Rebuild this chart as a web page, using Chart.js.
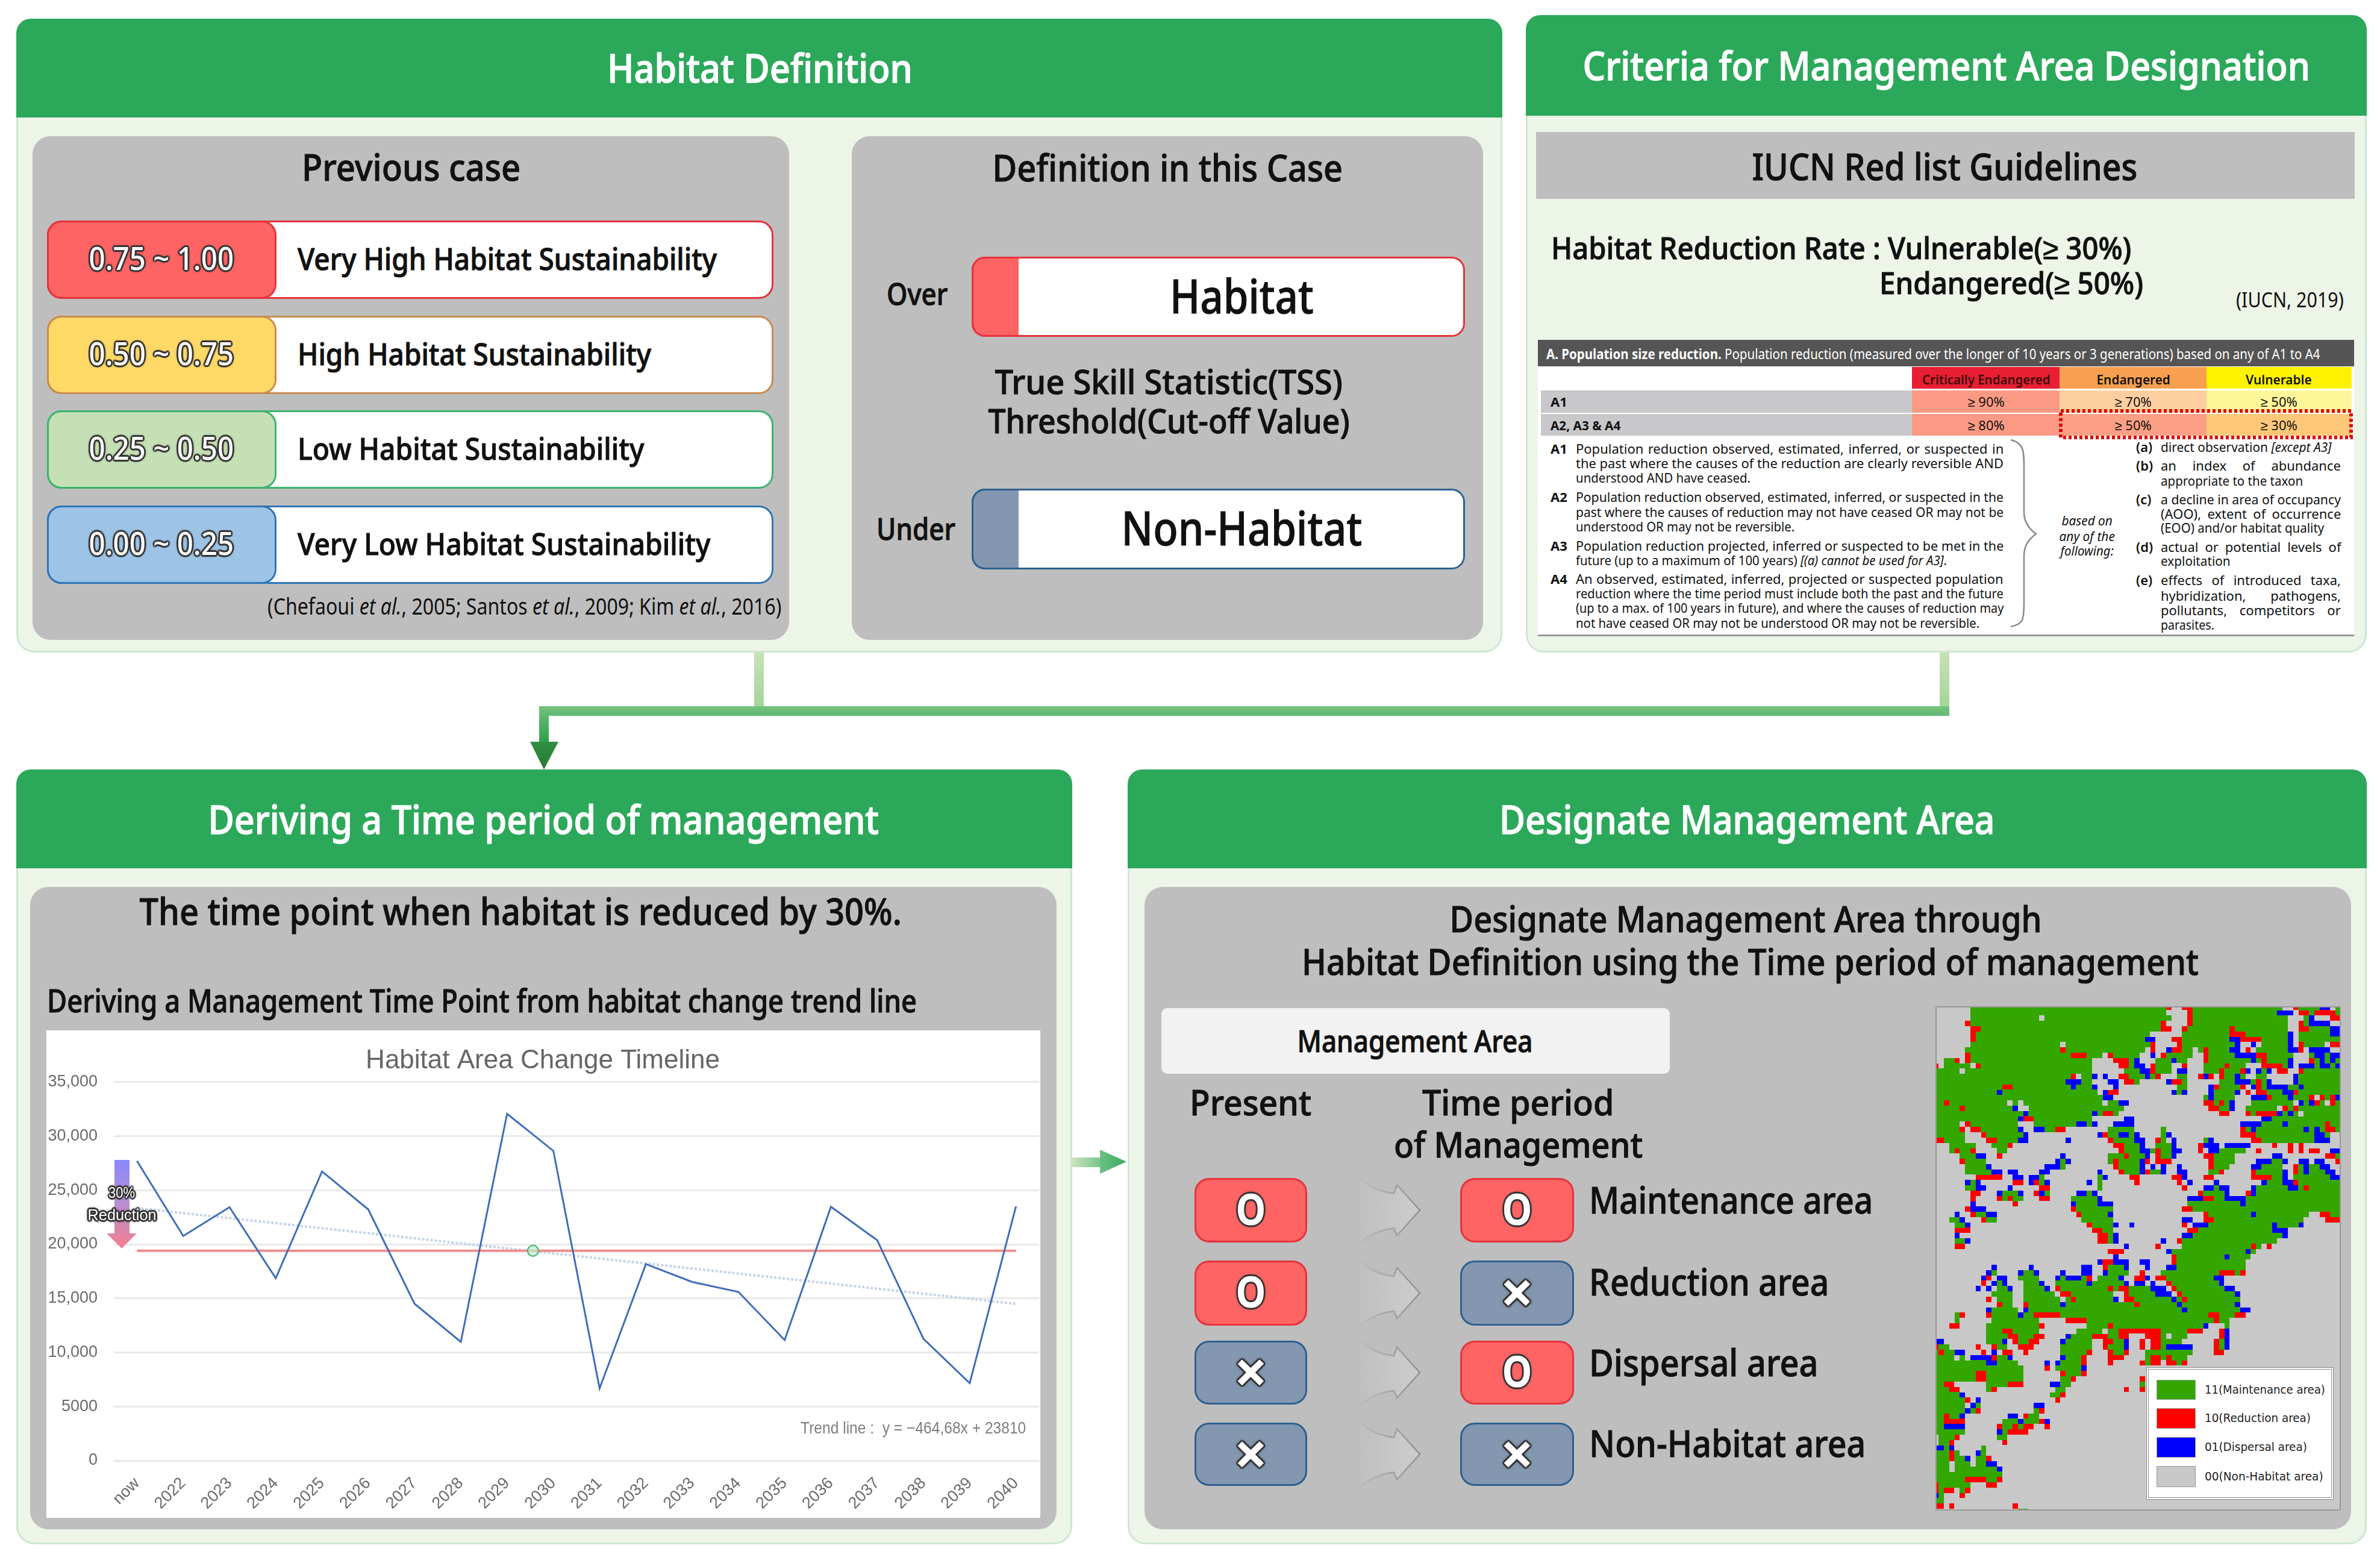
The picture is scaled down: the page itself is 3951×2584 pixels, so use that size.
<!DOCTYPE html>
<html>
<head>
<meta charset="utf-8">
<title>Habitat and management area workflow</title>
<script src="https://cdn.jsdelivr.net/npm/chart.js@4"></script>
<style>
  html, body { margin: 0; padding: 0; background: #fff; }
  #page { position: relative; width: 3951px; height: 2584px; overflow: hidden; font-family: "Noto Sans", sans-serif; }
  .b { position: absolute; box-sizing: border-box; }
  .t { position: absolute; white-space: nowrap; line-height: 1; color: #111; }
  canvas { position: absolute; display: block; }
  svg { position: absolute; left: 0; top: 0; overflow: visible; }
</style>
</head>
<body>
<div id="page"></div>
<script>
// ---- Trend chart data ----
const categories = ['now', '2022', '2023', '2024', '2025', '2026', '2027', '2028', '2029', '2030',
                    '2031', '2032', '2033', '2034', '2035', '2036', '2037', '2038', '2039', '2040'];
const habitatArea = [27700, 20770, 23430, 16860, 26740, 23220, 14500, 10980, 32060, 28640,
                     6670, 18170, 16520, 15600, 11140, 23470, 20380, 11260, 7160, 23500];
const trendLine = [23350, null, null, null, null, null, null, null, null, null,
                   null, null, null, null, null, null, null, null, null, 14500];
const thresholdLine = [19400, null, null, null, null, null, null, null, null, null,
                       null, null, null, null, null, null, null, null, null, 19400];
const crossingPoint = [{ x: 8.56, y: 19400 }];
const yTickLabels = ['0', '5000', '10,000', '15,000', '20,000', '25,000', '30,000', '35,000'];

// ---- Map grid data: each row is "<class><first column>" runs, G/R/B/. ----
const mapClasses = ['.', 'G', 'R', 'B'];
const mapColors = ['#c8c8c8', '#33a600', '#ff0000', '#0000ff'];
const mapRows = [
  '.0 G7 R44 .45 R47 G49 .66 R68 G69 B73 .75 G76',
  '.0 G7 .44 R48 G49 B65 .68 R69 G71 R72 G76',
  '.0 G7 .20 G21 .45 R48 G49 .67 G70 B71 .72 R75',
  '.0 R6 G7 R43 .44 R48 G49 .67 R69 G70 B71 .75',
  '.0 R7 G9 R43 .45 R47 G48 R56 G57 .67 R69 G71 B75',
  '.0 R7 G8 .41 G47 R56 G59 B67 .68 G69 B75',
  '.0 R7 G8 B40 .42 R45 G47 B56 R58 G62 B67 .68 G69',
  '.0 G7 .24 G25 R41 .42 R46 G47 B57 .58 B60 .61 G62 B67 .68 R69 G70 .74 R75',
  '.0 G6 R24 G25 .40 R41 .42 B44 R45 G47 .49 G50 R51 G52 B56 .58 R59 .60 G61 B67 R69 .70 B71 .75',
  '.0 R6 G7 R26 G29 .32 R33 G34 .39 B41 .42 R43 G44 .49 R51 G52 B57 R61 G63 .68 G71 B72 G74 B75',
  '.0 G2 R4 .5 R6 G7 .30 R34 G37 B38 .39 G42 B45 G46 .48 R51 G52 B60 G61 R62 G63 B67 .68 R71 G72 B73 G74 B75 G76',
  'R0 .1 G2 .7 R8 G9 .30 R35 G37 B38 .40 R41 G42 .45 R47 .48 G51 R55 G56 .59 R62 G66 B67 .68 B69 G72 B73 G75 B76',
  'G0 .5 G6 .30 G36 B39 R41 G42 .45 B46 .48 G51 R54 G55 R58 B59 .60 B61 G62 B63 .64 R65 .67 R69 G70',
  'G0 R26 .27 G28 B30 .31 B32 .33 R35 G37 B40 G41 R42 .43 G46 .48 R50 B51 R52 .53 R54 G55 B57 G58 .59 G61 .63 B68 G69',
  'G0 B25 G28 .30 B33 .35 R36 G38 .39 B44 R45 G47 .48 G54 B57 G60 R61 G62 B63 .64 B68 G69',
  'G0 R13 G15 B26 G27 B30 .31 B34 .35 G46 .48 B52 R53 G54 R58 .59 B60 R61 G62 B63 G67 B69 G70',
  'G0 B12 G13 .31 B32 R33 .35 B45 G46 B47 .48 B52 G53 B57 .58 R59 .60 R61 G63 B66 R68 G69',
  'G0 B32 .34 G51 B52 G53 .57 B60 R63 G64 B67 G68 R71 .72 R73 G74 R75 B76',
  'G0 R2 G3 .14 G15 .16 G17 .32 G33 B35 .37 R51 G53 R54 G55 B56 .57 G60 .68 B69 G70 B71 R72 G73 .74 R75 G76',
  'G0 R5 G6 B15 .16 G18 .36 R52 G54 B56 .57 G59 .65 R66 G67 R68 G69',
  'G0 B17 G18 B30 G31 R32 G34 .35 R54 .56 R59 G60 R61 B65 G66 B67 G68 .69 G70',
  'G0 B16 R17 G19 .30 B36 .38 B62 G64',
  'G0 .5 R6 G7 .16 G19 B27 G29 B30 .31 B34 .38 B58 G62 B66 G67 R74 G75',
  'G0 R5 .6 R7 G9 B16 .17 B19 G21 R23 .25 G33 .38 G43 .44 R58 G59 B60 G61 B70 G71 B72 G73 R74 G76',
  'G0 .6 R9 G10 B17 .18 B31 R32 G33 B35 G37 B38 .39 G43 B44 .45 R58 G61 B72 G74 .75',
  'R0 G2 .6 R10 G12 B16 .18 B25 .26 R33 G34 B38 .40 R42 G43 .44 B45 .46 G51 B52 .53 R60 G62 B72 .75',
  '.0 G3 .8 G11 R14 .15 R34 G36 B39 .40 G42 B45 .46 R50 B51 .54 B55 .60 R64 .65 R67 .68 R69 .70',
  '.0 G3 R4 G5 R7 .8 G12 .14 R35 G36 B39 G41 R42 G43 B45 .47 R50 .51 B52 G54 .59 R61 .62 R67 .68 R69 .70 R71 .73 B75',
  '.0 G5 B8 .10 R12 .13 B24 .25 G33 R36 G37 B40 .41 R42 G43 B45 .46 R51 G53 .57 B64 .66 R74 G76',
  '.0 R5 G6 .10 B23 G24 B25 .26 G33 R34 G35 B39 R40 .41 R42 .45 R52 G53 .57 B61 G64 B66 .67 B69 .71 B72 .74 R76',
  '.0 G6 B10 .11 B21 G24 .25 R34 G35 B39 .40 B41 .42 B43 .44 B46 .47 R52 G53 .56 B60 G62 .66 R68 G69 B70 G71 B73 .75',
  '.0 G6 B11 .13 B14 .16 B20 .22 B31 .32 R35 G36 B39 R40 G41 B43 .44 B46 .48 G52 R54 .55 R60 G61 B66 .67 R68 G69 B70 G71 B74 .76',
  '.0 R8 .13 B15 .17 B18 G20 .21 G31 B32 .33 R37 .39 R45 B47 .48 R51 .53 R60 G64 B66 .67 G68 B75',
  '.0 B6 G7 B8 .9 R15 .17 B18 R19 G20 B21 .22 B29 .30 G31 .32 R38 .39 R46 .47 B48 .49 B53 .54 B62 G63 B66 R68 G69',
  '.0 G6 B8 .10 B14 .15 R20 .22 G31 .32 R47 .48 B51 G53 B54 .56 B60 G61 B67 G69 R70 G71',
  '.0 R7 .9 B12 G13 B16 .17 R19 B20 G21 .22 B27 G29 B30 .31 R50 G51 B55 .56 R59 B60 G61',
  '.0 R7 .8 R12 G13 R14 G15 .17 R20 .22 G26 B31 .32 B48 R51 G53 B55 G59',
  '.0 B7 .8 R15 .16 B26 G27 B31 .34 G48 B58 G59',
  '.0 R6 B7 .10 R26 G27 .34 R47 G49',
  '.0 B4 .5 R7 G8 B10 .12 R27 G28 B33 .34 R51 G52 B60 G61 .71 R73 G75',
  '.0 G3 B5 .6 R9 G10 .12 G28 .34 B47 .49 R51 G53 .70 R74',
  '.0 G4 B6 .7 R29 G30 B34 .35 B37 .38 R47 .48 B49 G52 B64 G65 B69 .70',
  '.0 R4 .7 R30 G32 .34 R48 G50 B64 .67',
  '.0 B4 .5 R31 G33 B34 .35 B47 G49 B66 .67',
  '.0 G4 B6 .7 R31 G33 B34 .35 B43 .44 R46 G47 .65',
  '.0 R4 .6 B36 .37 R42 .43 G47 R60 G61 .62 R63 .64',
  '.0 R33 .36 B44 G45 B59 G60 .61',
  '.0 B34 .35 R45 G46 B55 G56 .60',
  '.0 B31 R32 B34 .37 B39 .41 R45 G46 .59',
  '.0 B11 .12 B18 .19 B28 .30 R32 G33 B36 .37 B40 .41 B44 G46 .59',
  '.0 B10 G11 .12 B16 G17 B19 .20 B24 .25 B28 .30 B32 G33 .37 R39 .40 G43 R54 G57 R58 .59',
  '.0 B9 R10 .11 B12 .14 G16 .20 B23 G24 B25 G28 R29 .30 G31 B35 .36 R38 B40 .41 R42 G44 B53 .55',
  '.0 R9 .10 B11 G12 B13 .14 G17 B20 .21 G23 B29 G30 B36 .37 B38 .40 B41 .42 R44 G45 B54 .55',
  '.0 B8 .9 B10 .11 G12 B14 .15 G17 B21 .22 R23 G24 R33 G34 R35 G37 B41 .44 R45 G46 B55 .57',
  '.0 G11 .15 G17 .23 R24 G26 .34 R36 G37 B42 .45 R46 G47 B57 .58',
  '.0 R10 .11 G12 .15 G17 .24 G25 R26 G27 B34 .35 R36 G38 B45 G46 R47 G48 .58',
  '.0 R12 G13 .15 R17 G18 B24 G25 R38 G39 B46 G47 B57 .58',
  '.0 B10 G11 .16 B17 G18 B47 G48 B58 .60',
  '.0 G4 R5 .6 R10 G11 B16 G17 R19 G24 R52 G54 R57 .59',
  '.0 G4 .5 G11 .20 R25 G29 R53 G54 .56',
  '.0 R3 .5 G10 R20 .21 G29 R33 G34 B51 .52 G55 .56',
  '.0 G10 R13 G15 .20 G27 .32 G33 R35 G43 R48 .51 R54 B55 .56',
  '.0 G10 R14 G16 R19 .21 B25 G26 R30 G33 R35 .37 R40 G43 .44 G45 .48 R54 B55 .56',
  'B0 .2 G10 B13 .14 R15 G16 R18 .20 B24 G25 .30 R32 G34 B36 .37 R39 .40 R41 G43 .47 R53 G54 B55 .56',
  'R0 G1 .3 R8 .9 R11 G12 .14 R16 .19 G24 .30 R32 G33 B36 .37 R39 .40 R41 G43 B44 .49 R53 G54 B55 .56',
  'G0 R1 G2 B4 .6 R9 .10 B11 .12 R13 .15 R17 .18 G24 R29 .30 R33 G34 R36 .37 G40 .49 R53 .55',
  'G0 .4 G5 .6 B7 R11 G12 B14 .15 B24 G25 R28 .29 R33 .36 G40 R41 G43 R44 G45 .48',
  'G0 B10 G12 .16 B21 .22 B23 G24 R28 .29 R33 .34 R39 G40 R41 .43 R44 G46 R47 .48',
  'G0 .17 R21 .22 G23 B28 .29',
  'G0 R8 G10 .17 R24 G25 R28 .29',
  'G0 R8 G10 .17 G24 R26 .27 R39 .40',
  'G0 R2 .4 G10 R14 .17 B22 G24 .26 G39 .40',
  'G0 R3 .5 G10 R11 .12 G23 .25 R36 .37 R39 .40',
  'G0 B5 .6 G22 R24 .25',
  'G0 R6 .7 B8 .9 R23 .24',
  'G0 .6 B7 G8 .9 B19 .21',
  'G0 B6 G7 R8 .9 G19 R20 .21',
  'G0 R2 G3 B5 .6 B14 .16 R17 G18 .20',
  'G0 R2 .6 G13 B16 G17 R20 B21 .22',
  'G0 B2 .6 R12 G13 R15 G16 R17 .19 R21 .22',
  'G0 .6 B12 G13 R14 .18',
  '.0 G1 R4 .5 G12 .14',
  '.0 G1 R3 .4 R13 .14',
  'B0 G2 B3 .4 G9 .10',
  'G0 R3 G4 .5 B8 G9 .10',
  'G0 R3 G4 B6 .7 G8 R10 .11',
  'G0 .3 G4 .7 G8 B10 .12',
  'G0 .3 G4 B12 .13',
  'G0 .13',
  'G0 R6 G10 R12 .13',
  'R0 G1 .7 R10 .12',
  'R0 G1 R2 .4 G5 R6 .7',
  'B0 G1 .2 R5 .6',
  'G0 .2',
  'R0 .2 R3 .4 R15 .16',
  '.0 G16 .18'
];

// ---- Text of the diagram ----
const sustainabilityRows = [
  ['0.75 ~ 1.00', 'Very High Habitat Sustainability', 696, '#ff6464', '#e8323c', 366],
  ['0.50 ~ 0.75', 'High Habitat Sustainability', 587, '#ffd966', '#c98a50', 524],
  ['0.25 ~ 0.50', 'Low Habitat Sustainability', 575, '#c5e0b4', '#3cb371', 681],
  ['0.00 ~ 0.25', 'Very Low Habitat Sustainability', 685, '#9dc3e6', '#2e75b6', 839]
];
const criteriaLeft = [
  ['A1', 'Population reduction observed, estimated, inferred, or suspected in', 710, 745],
  ['', 'the past where the causes of the reduction are clearly reversible AND', 710, 769],
  ['', 'understood AND have ceased.', 290, 793],
  ['A2', 'Population reduction observed, estimated, inferred, or suspected in the', 710, 825],
  ['', 'past where the causes of reduction may not have ceased OR may not be', 710, 850],
  ['', 'understood OR may not be reversible.', 363, 874],
  ['A3', 'Population reduction projected, inferred or suspected to be met in the', 710, 906],
  ['', 'future (up to a maximum of 100 years) <i>[(a) cannot be used for A3]</i>.', 616, 930],
  ['A4', 'An observed, estimated, inferred, projected or suspected population', 710, 961],
  ['', 'reduction where the time period must include both the past and the future', 710, 985],
  ['', '(up to a max. of 100 years in future), and where the causes of reduction may', 710, 1009],
  ['', 'not have ceased OR may not be understood OR may not be reversible.', 670, 1034]
];
const criteriaRight = [
  ['(a)', 'direct observation <i>[except A3]</i>', 283, 742],
  ['(b)', 'an index of abundance', 299, 773],
  ['', 'appropriate to the taxon', 236, 798],
  ['(c)', 'a decline in area of occupancy', 299, 829],
  ['', '(AOO), extent of occurrence', 299, 853],
  ['', '(EOO) and/or habitat quality', 271, 876],
  ['(d)', 'actual or potential levels of', 299, 908],
  ['', 'exploitation', 116, 931],
  ['(e)', 'effects of introduced taxa,', 299, 963],
  ['', 'hybridization, pathogens,', 299, 989],
  ['', 'pollutants, competitors or', 299, 1013],
  ['', 'parasites.', 89, 1037]
];
const managementRows = [
  ['O', 'O', 'Maintenance area', 471, 1955, 2062, 1993],
  ['O', '×', 'Reduction area', 398, 2092, 2200, 2129],
  ['×', 'O', 'Dispersal area', 380, 2225, 2331, 2263],
  ['×', '×', 'Non-Habitat area', 459, 2361, 2466, 2397]
];
const mapLegend = [
  ['11(Maintenance area)', '#33a600', 2290, 2323, 200],
  ['10(Reduction area)', '#ff0000', 2337, 2371, 176],
  ['01(Dispersal area)', '#0000ff', 2385, 2419, 170],
  ['00(Non-Habitat area)', '#c8c8c8', 2433, 2468, 197]
];

const page = document.getElementById('page');

// box by its corners, css is a plain style string
function box(x0, y0, x1, y1, css) {
  const el = document.createElement('div');
  el.className = 'b';
  el.style.cssText = `left:${x0}px;top:${y0}px;width:${x1 - x0}px;height:${y1 - y0}px;${css || ''}`;
  page.appendChild(el);
  return el;
}

// text at anchor x (a = l, c or r) and centre y, fitted to width w when given
function txt(str, x, y, size, o) {
  o = o || {};
  const a = o.a || 'c';
  const el = document.createElement('div');
  el.className = 't';
  el.innerHTML = str;
  el.style.fontSize = size + 'px';
  el.style.fontWeight = o.weight || 500;
  if (o.color) el.style.color = o.color;
  if (o.font) el.style.fontFamily = o.font;
  if (o.italic) el.style.fontStyle = 'italic';
  if (o.shadow) el.style.textShadow = o.shadow;
  if (size >= 46 && !o.shadow) el.style.webkitTextStroke = (o.stroke || 1) + 'px';
  page.appendChild(el);
  let w0 = el.offsetWidth;
  // justified lines of the table open up the word gaps instead of the glyphs
  if (o.just && o.w > w0) {
    const gaps = el.textContent.split(' ').length - 1;
    if (gaps) el.style.wordSpacing = (o.w - w0) / gaps + 'px';
    w0 = el.offsetWidth;
  }
  const scale = o.w ? o.w / w0 : 1;
  el.style.left = (a === 'l' ? x : a === 'c' ? x - w0 / 2 : x - w0) + 'px';
  el.style.top = (y - size * 0.05) + 'px';
  el.style.transformOrigin = (a === 'l' ? 'left' : a === 'c' ? 'center' : 'right') + ' center';
  el.style.transform = `translateY(-50%) scaleX(${scale})`;
  return el;
}

function panel(x0, y0, x1, y1, headerY, title, titleX, titleY, titleW) {
  box(x0, y0, x1, y1, 'background:#edf4e8;border:3px solid #cfe7d2;border-radius:30px;');
  box(x0, y0, x1, headerY, 'background:#2ba85a;border-radius:24px 24px 0 0;');
  txt(title, titleX, titleY, 66, { w: titleW, color: '#fff', stroke: 1.4 });
}

const greyBox = 'background:#bebebe;border-radius:30px;';
const outline = '3px 0 1px #333,-3px 0 1px #333,0 3px 1px #333,0 -3px 1px #333,2px 2px 1px #333,-2px 2px 1px #333,2px -2px 1px #333,-2px -2px 1px #333,0 0 6px #333';

// ---- Connectors ----
box(1252, 1080, 1268, 1172, 'background:linear-gradient(#c9e2b6,#a5d49a);');
box(3220, 1080, 3236, 1172, 'background:linear-gradient(#c9e2b6,#a5d49a);');
box(895, 1172, 3236, 1188, 'background:linear-gradient(#77c27f,#5fb873);');
box(895, 1172, 911, 1232, 'background:linear-gradient(#74c17d,#2aa04c);');
box(1780, 1921, 1832, 1937, 'background:linear-gradient(90deg,#c8e4c0,#6fc383);');

// ---- Habitat Definition ----
panel(27, 31, 2494, 1083, 195, 'Habitat Definition', 1261, 114, 507);
box(54, 226, 1310, 1062, greyBox);
txt('Previous case', 682, 279, 62, { w: 363 });
sustainabilityRows.forEach(r => {
  const y = r[5];
  box(78, y, 1284, y + 130, `background:#fff;border:3px solid ${r[4]};border-radius:24px;`);
  box(78, y, 459, y + 130, `background:${r[3]};border:3px solid ${r[4]};border-radius:24px;`);
  txt(r[0], 268, y + 65, 52, { w: 241, color: '#fff', shadow: outline });
  txt(r[1], 494, y + 65, 50, { a: 'l', w: r[2] });
});
txt('(Chefaoui <i>et al.</i>, 2005; Santos <i>et al.</i>, 2009; Kim <i>et al.</i>, 2016)', 444, 1007, 38, { a: 'l', w: 853, weight: 400 });

box(1414, 226, 2462, 1062, greyBox);
txt('Definition in this Case', 1938, 280, 62, { w: 582 });
txt('Over', 1522, 489, 50, { w: 101 });
box(1613, 426, 2432, 559, 'background:#fff;border:3px solid #e8323c;border-radius:22px;');
box(1613, 426, 1691, 559, 'background:#ff6464;border:3px solid #e8323c;border-right:none;border-radius:22px 0 0 22px;');
txt('Habitat', 2061, 494, 78, { w: 239 });
txt('True Skill Statistic(TSS)', 1940, 635, 56, { w: 577 });
txt('Threshold(Cut-off Value)', 1940, 700, 56, { w: 600 });
txt('Under', 1520, 879, 50, { w: 131 });
box(1613, 811, 2432, 945, 'background:#fff;border:3px solid #2e6090;border-radius:22px;');
box(1613, 811, 1691, 945, 'background:#8497b0;border:3px solid #2e6090;border-right:none;border-radius:22px 0 0 22px;');
txt('Non-Habitat', 2061, 879, 78, { w: 400 });

// ---- Criteria ----
panel(2533, 25, 3929, 1083, 192, 'Criteria for Management Area Designation', 3231, 110, 1207);
box(2550, 219, 3909, 330, 'background:#bebebe;');
txt('IUCN Red list Guidelines', 3228, 278, 62, { w: 640 });
txt('Habitat Reduction Rate : Vulnerable(≥ 30%)', 2575, 413, 50, { a: 'l', w: 963 });
txt('Endangered(≥ 50%)', 3120, 471, 50, { a: 'l', w: 438 });
txt('(IUCN, 2019)', 3891, 499, 34, { a: 'r', w: 179, weight: 400 });

box(2553, 564, 3908, 1056, 'background:#fff;border-bottom:3px solid #999;');
box(2553, 564, 3908, 608, 'background:#555;');
txt('<b>A. Population size reduction.</b> Population reduction (measured over the longer of 10 years or 3 generations) based on any of A1 to A4', 2567, 588, 24, { a: 'l', w: 1285, color: '#fff', weight: 400 });
box(3174, 609, 3419, 645, 'background:#e81e32;');
box(3419, 609, 3663, 645, 'background:#f8a050;');
box(3663, 609, 3904, 645, 'background:#fff200;');
box(2558, 648, 3174, 685, 'background:#c8c8ca;');
box(3174, 648, 3419, 685, 'background:#fa9a84;');
box(3419, 648, 3663, 685, 'background:#fdcfa0;');
box(3663, 648, 3904, 685, 'background:#fff69a;');
box(2558, 687, 3174, 723, 'background:#c8c8ca;');
box(3174, 687, 3419, 723, 'background:#fa9a84;');
box(3419, 687, 3663, 723, 'background:#fca085;');
box(3663, 687, 3904, 723, 'background:#ffc878;');
txt('Critically Endangered', 3297, 630, 22, { w: 213, weight: 600, color: '#3a0a0a' });
txt('Endangered', 3541, 630, 22, { w: 122, weight: 600 });
txt('Vulnerable', 3783, 630, 22, { w: 110, weight: 600 });
txt('A1', 2574, 667, 22, { a: 'l', weight: 700 });
txt('A2, A3 &amp; A4', 2574, 706, 22, { a: 'l', w: 116, weight: 700 });
[['≥ 90%', 3297, 667], ['≥ 70%', 3541, 667], ['≥ 50%', 3783, 667],
 ['≥ 80%', 3297, 706], ['≥ 50%', 3541, 706], ['≥ 30%', 3783, 706]].forEach(c => {
  txt(c[0], c[1], c[2], 22, { w: 61, weight: 400 });
});
criteriaLeft.forEach(l => {
  if (l[0]) txt(l[0], 2574, l[3], 22, { a: 'l', weight: 700 });
  txt(l[1], 2616, l[3], 22, { a: 'l', w: l[2], weight: 400, just: true });
});
criteriaRight.forEach(l => {
  if (l[0]) txt(l[0], 3546, l[3], 22, { a: 'l', weight: 600 });
  txt(l[1], 3587, l[3], 22, { a: 'l', w: l[2], weight: 400, just: true });
});
txt('based on', 3464, 864, 22, { italic: true, w: 84, weight: 400 });
txt('any of the', 3464, 890, 22, { italic: true, w: 92, weight: 400 });
txt('following:', 3464, 914, 22, { italic: true, w: 88, weight: 400 });

// ---- Deriving a Time period ----
panel(27, 1277, 1780, 2563, 1441, 'Deriving a Time period of management', 902, 1361, 1114);
box(50, 1472, 1754, 2538, greyBox);
txt('The time point when habitat is reduced by 30%.', 864, 1514, 62, { w: 1265 });
txt('Deriving a Management Time Point from habitat change trend line', 78, 1663, 52, { a: 'l', w: 1444 });
box(77, 1710, 1727, 2519, 'background:#fff;');

const trendCanvas = document.createElement('canvas');
trendCanvas.width = 1650;
trendCanvas.height = 809;
trendCanvas.style.cssText = 'left:77px;top:1710px;width:1650px;height:809px;';
page.appendChild(trendCanvas);
const axisFont = '"Liberation Sans", "Noto Sans", sans-serif';

new Chart(trendCanvas, {
  type: 'line',
  data: {
    labels: categories,
    datasets: [
      { data: habitatArea, borderColor: '#3f6db8', borderWidth: 3, pointRadius: 0, tension: 0, fill: false },
      { data: crossingPoint, xAxisID: 'xm', showLine: false, pointRadius: 9, pointBackgroundColor: 'rgba(190,235,200,0.7)', pointBorderColor: '#3cb371', pointBorderWidth: 2 },
      { data: thresholdLine, borderColor: '#f08c8c', borderWidth: 4, pointRadius: 0, spanGaps: true },
      { data: trendLine, borderColor: '#c5d3e8', borderWidth: 4, borderDash: [4, 3], pointRadius: 0, spanGaps: true }
    ]
  },
  options: {
    responsive: false,
    animation: false,
    devicePixelRatio: 1,
    layout: { autoPadding: false, padding: { right: 2 } },
    plugins: {
      legend: { display: false },
      tooltip: { enabled: false },
      title: {
        display: true,
        text: 'Habitat Area Change Timeline',
        color: '#666',
        font: { family: axisFont, size: 44, weight: 'normal' },
        padding: { top: 24, bottom: 9 }
      }
    },
    scales: {
      x: {
        type: 'category',
        offset: true,
        grid: { display: false },
        border: { display: false },
        afterFit: s => { s.height = 95; },
        ticks: {
          color: '#6a6a6a',
          font: { family: axisFont, size: 27 },
          minRotation: 45,
          maxRotation: 45,
          autoSkip: false,
          padding: 14
        }
      },
      xm: { type: 'linear', display: false, min: -0.5, max: 19.5 },
      y: {
        min: 0,
        max: 35000,
        border: { display: false },
        grid: { color: '#e9e9e9', lineWidth: 3, drawTicks: false },
        afterFit: s => { s.width = 112; },
        ticks: {
          stepSize: 5000,
          color: '#6a6a6a',
          font: { family: axisFont, size: 27 },
          padding: 27,
          callback: v => yTickLabels[v / 5000]
        }
      }
    }
  }
});

txt('Trend line :&nbsp; y = −464,68x + 23810', 1703, 2371, 28, { a: 'r', w: 374, font: axisFont, color: '#7f7f7f', weight: 400 });

// ---- Designate Management Area ----
panel(1872, 1277, 3929, 2563, 1441, 'Designate Management Area', 2900, 1361, 822);
box(1900, 1472, 3903, 2538, greyBox);
txt('Designate Management Area through', 2898, 1527, 60, { w: 983 });
txt('Habitat Definition using the Time period of management', 2905, 1598, 60, { w: 1489 });
box(1928, 1673, 2772, 1782, 'background:#f2f2f2;border-radius:10px;');
txt('Management Area', 2349, 1729, 50, { w: 391 });
txt('Present', 2076, 1832, 58, { w: 202 });
txt('Time period', 2520, 1832, 58, { w: 318 });
txt('of Management', 2520, 1902, 58, { w: 413 });

// arrows, chevrons, brace and dotted frame over the boxes
const svgNS = 'http://www.w3.org/2000/svg';
const overlay = document.createElementNS(svgNS, 'svg');
overlay.setAttribute('width', 3951);
overlay.setAttribute('height', 2584);
let overlayMarkup = `
  <defs>
    <linearGradient id="redArrow" x1="0" y1="1925" x2="0" y2="2072" gradientUnits="userSpaceOnUse">
      <stop offset="0" stop-color="#8a88ff"/><stop offset="0.45" stop-color="#b48fd8"/><stop offset="1" stop-color="#f4808c"/>
    </linearGradient>
    <linearGradient id="drop" x1="0" y1="1231" x2="0" y2="1277" gradientUnits="userSpaceOnUse">
      <stop offset="0" stop-color="#2f8f40"/><stop offset="1" stop-color="#2a7a36"/>
    </linearGradient>
    <linearGradient id="midArrow" x1="1810" x2="1870" y1="0" y2="0" gradientUnits="userSpaceOnUse">
      <stop offset="0" stop-color="#7ccb8e"/><stop offset="1" stop-color="#3aa860"/>
    </linearGradient>
    <linearGradient id="chev" x1="2250" x2="2360" y1="0" y2="0" gradientUnits="userSpaceOnUse">
      <stop offset="0" stop-color="#bebebe"/><stop offset="0.7" stop-color="#c9c9c9"/><stop offset="1" stop-color="#cccccc"/>
    </linearGradient>
    <linearGradient id="chevLine" x1="2250" x2="2360" y1="0" y2="0" gradientUnits="userSpaceOnUse">
      <stop offset="0" stop-color="#bebebe"/><stop offset="0.6" stop-color="#a0a0a0"/><stop offset="1" stop-color="#8f8f8f"/>
    </linearGradient>
  </defs>
  <polygon points="880,1231 927,1231 903,1277" fill="url(#drop)"/>
  <polygon points="1826,1908 1870,1928 1826,1948" fill="url(#midArrow)"/>
  <path d="M190,1925 H215 V2047 H227 L202,2072 L177,2047 H190 Z" fill="url(#redArrow)"/>
  <rect x="3421" y="682" width="482" height="44" fill="none" stroke="#e00000" stroke-width="6" stroke-dasharray="5 4"/>
  <path d="M3338,730 C3362,736 3360,750 3360,790 L3360,850 C3360,870 3372,880 3380,886 C3372,892 3360,902 3360,922 L3360,1000 C3360,1030 3358,1036 3338,1040" fill="none" stroke="#888" stroke-width="2.5"/>
`;
managementRows.forEach(r => {
  const c = (r[4] + r[5]) / 2;
  overlayMarkup += `<path d="M2254,${c - 57} C2275,${c - 36} 2295,${c - 30} 2314,${c - 28} L2319,${c - 42} L2357,${c} L2319,${c + 42} L2314,${c + 30} C2295,${c + 32} 2275,${c + 38} 2254,${c + 57} Z" fill="url(#chev)" stroke="url(#chevLine)" stroke-width="2.5"/>`;
});
overlay.innerHTML = overlayMarkup;
page.appendChild(overlay);

txt('30%', 202, 1980, 26, { w: 44, font: axisFont, color: '#fff', shadow: outline, weight: 400 });
txt('Reduction', 202, 2017, 26, { w: 114, font: axisFont, color: '#fff', shadow: outline, weight: 400 });

function chip(x0, y0, x1, y1, mark) {
  const on = mark === 'O';
  box(x0, y0, x1, y1, `background:${on ? '#ff6464' : '#8497b0'};border:3px solid ${on ? '#e8323c' : '#2e6090'};border-radius:24px;`);
  txt(mark, (x0 + x1) / 2, (y0 + y1) / 2 + (on ? 0 : 2), on ? 72 : 96, { color: '#fff', shadow: outline, weight: 700, w: on ? 50 : 56 });
}
managementRows.forEach(r => {
  chip(1983, r[4], 2170, r[5], r[0]);
  chip(2424, r[4], 2613, r[5], r[1]);
  txt(r[2], 2638, r[6], 62, { a: 'l', w: r[3] });
});

// ---- Map, one point per grid cell ----
box(3213, 1670, 3886, 2507, 'background:#c8c8c8;border:2px solid #999;');
const mapCanvas = document.createElement('canvas');
mapCanvas.width = 669;
mapCanvas.height = 833;
mapCanvas.style.cssText = 'left:3215px;top:1672px;width:669px;height:833px;';
page.appendChild(mapCanvas);

function cellStyle(color) {
  const c = document.createElement('canvas');
  c.width = 9;
  c.height = 9;
  const g = c.getContext('2d');
  g.fillStyle = color;
  g.fillRect(0, 0, 9, 9);
  return c;
}

const mapSeries = mapClasses.map(() => []);
mapRows.forEach((row, r) => {
  const runs = row.split(' ').map(tok => [tok[0], +tok.slice(1)]);
  runs.forEach((run, i) => {
    const end = i + 1 < runs.length ? runs[i + 1][1] : 77;
    const idx = mapClasses.indexOf(run[0]);
    for (let col = run[1]; col < end; col++) mapSeries[idx].push({ x: col + 0.5, y: r + 0.5 });
  });
});

new Chart(mapCanvas, {
  type: 'scatter',
  data: {
    datasets: mapClasses.map((name, i) => ({
      data: mapSeries[i],
      pointStyle: cellStyle(mapColors[i]),
      pointRadius: 6
    }))
  },
  options: {
    responsive: false,
    animation: false,
    devicePixelRatio: 1,
    layout: { autoPadding: false },
    plugins: { legend: { display: false }, tooltip: { enabled: false } },
    scales: {
      x: { type: 'linear', display: false, bounds: 'data', min: 0.63, max: 76.8 },
      y: { type: 'linear', display: false, bounds: 'data', reverse: true, min: 0.49, max: 95.1 }
    }
  }
});

box(3563, 2269, 3874, 2489, 'background:#fff;border:4px double #8a8a8a;');
mapLegend.forEach(l => {
  box(3580, l[2], 3645, l[3], `background:${l[1]};border:1px solid #999;`);
  txt(l[0], 3660, (l[2] + l[3]) / 2, 20, { a: 'l', w: l[4], font: '"DejaVu Sans", sans-serif', weight: 400, color: '#222' });
});
</script>
</body>
</html>
